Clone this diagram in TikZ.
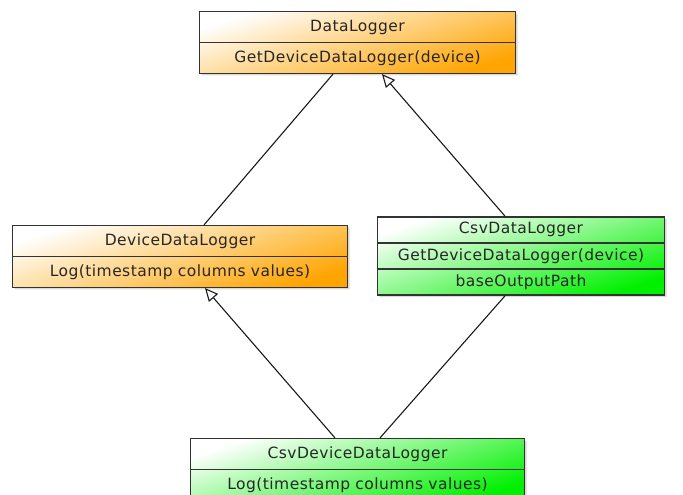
\documentclass[tikz,border=0pt]{standalone}
\usepackage{fontspec}
\setmainfont{DejaVu Sans}[LetterSpace=3]
\usepackage{tikz}
\usetikzlibrary{shapes, shadows, arrows.meta}
\definecolor{clsOrange}{HTML}{FFA400}
\definecolor{clsGreen}{HTML}{00F000}
\tikzset{
  every picture/.style={font={\fontsize{15.5pt}{18pt}\selectfont},
    >={Triangle[open, length=13pt, width=12pt]}},
  every node/.style={text=black!85}}

\begin{document}
\begin{tikzpicture}[x=1pt, y=-1pt,
    cls/.style={
      draw=black!80, line width=1.4pt,
      rectangle split,
      rectangle split draw splits,
      align=center, inner xsep=0pt,
      text height=11.5pt, text depth=3.5pt,
      drop shadow={opacity=0.3, shadow xshift=2pt, shadow yshift=-2pt}},
    base/.style={cls, top color=white, bottom color=clsOrange, shading angle=18},
    impl/.style={cls, top color=white, bottom color=clsGreen, shading angle=18},
    link/.style={draw=black!90, line width=1.1pt}]

    \useasboundingbox (0, 0) rectangle (683, 495);

    \node[base, rectangle split parts=2, text width=316pt, inner ysep=7.25pt]
      (dataLogger) at (357.5, 42.5)
    {
      DataLogger
      \nodepart{two}GetDeviceDataLogger(device)
    };
    \node[base, rectangle split parts=2, text width=335pt, inner ysep=7.25pt]
      (deviceLogger) at (180, 256.5)
    {
      DeviceDataLogger
      \nodepart{two}Log(timestamp columns values)
    };
    \node[impl, rectangle split parts=3, text width=287pt, inner ysep=4.85pt]
      (csvLogger) at (521, 256)
    {
      CsvDataLogger
      \nodepart{two}GetDeviceDataLogger(device)
      \nodepart{three}baseOutputPath
    };
    \node[impl, rectangle split parts=2, text width=334pt, inner ysep=7.25pt]
      (csvDeviceLogger) at (357.5, 469.5)
    {
      CsvDeviceDataLogger
      \nodepart{two}Log(timestamp columns values)
    };

    \draw[link] ([xshift=24pt]deviceLogger.north) -- ([xshift=-24.5pt]dataLogger.south);
    \draw[link, ->] ([xshift=-16pt]csvLogger.north) -- ([xshift=24.5pt]dataLogger.south);
    \draw[link, ->] ([xshift=-22.5pt]csvDeviceLogger.north) -- ([xshift=25pt]deviceLogger.south);
    \draw[link] ([xshift=22.5pt]csvDeviceLogger.north) -- ([xshift=-16pt]csvLogger.south);
  \end{tikzpicture}
\end{document}
